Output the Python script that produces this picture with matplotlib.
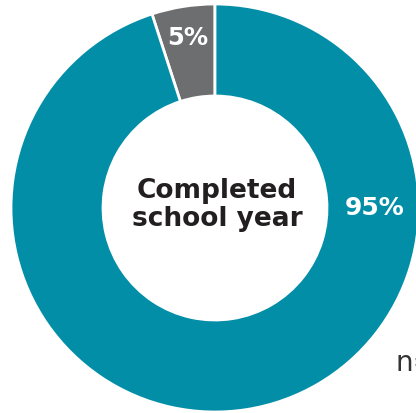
import matplotlib.pyplot as plt

labels = ["Did not complete", "Completed school year"]
values = [5, 95]
pct_labels = ["5%", "95%"]
colors = ["#6D6E70", "#038EA8"]

W, H = 416, 414
fig = plt.figure(figsize=(W/100, H/100), dpi=100)
ax = fig.add_axes([0, 0, 1, 1])
ax.axis("off")

cx, cy, R, r = 215, H - 209, 204, 112
ax.pie(values, colors=colors, startangle=90, counterclock=True,
       radius=R, center=(cx, cy),
       wedgeprops=dict(width=R - r, edgecolor="white", linewidth=2))
ax.set_xlim(0, W)
ax.set_ylim(0, H)
ax.set_aspect("equal")

font = "DejaVu Sans"
ax.text(188, H - 38, pct_labels[0], color="white", fontsize=17.5, fontweight="bold",
        ha="center", va="center", family=font)
ax.text(375, H - 208, pct_labels[1], color="white", fontsize=18, fontweight="bold",
        ha="center", va="center", family=font)
ax.text(cx + 2, H - 205, "Completed\nschool year", color="#231F20", fontsize=19,
        fontweight="bold", ha="center", va="center", family=font, linespacing=1.05)
ax.text(396, H - 363, "n=", color="#333333", fontsize=20, ha="left", va="center",
        family=font)

fig.savefig("out.png", dpi=100)
